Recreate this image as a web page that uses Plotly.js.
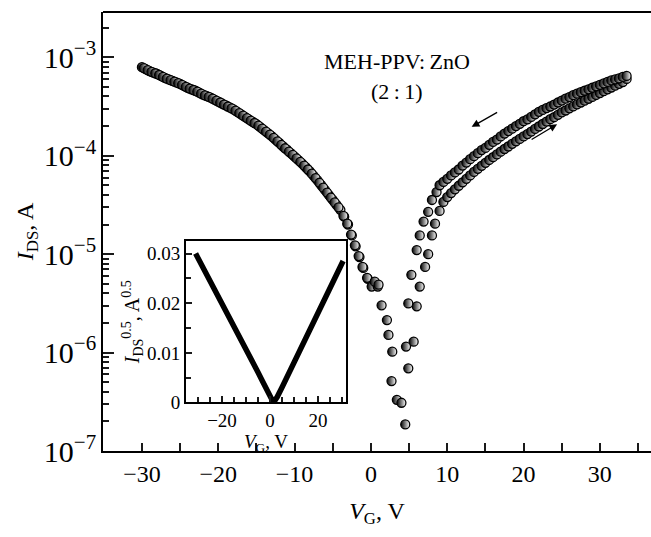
<!DOCTYPE html>
<html>
<head>
<meta charset="utf-8">
<script src="https://cdn.plot.ly/plotly-3.0.1.min.js"></script>
<style>html,body{margin:0;padding:0;overflow:hidden;background:#fff}</style>
</head>
<body>
<div id="chart" style="width:651px;height:537px"></div>
<script>
var forwardV = [-30,-29.5,-29,-28.5,-28,-27.5,-27,-26.5,-26,-25.5,-25,-24.5,-24,-23.5,-23,-22.5,-22,-21.5,-21,-20.5,-20,-19.5,-19,-18.5,-18,-17.5,-17,-16.5,-16,-15.5,-15,-14.5,-14,-13.5,-13,-12.5,-12,-11.5,-11,-10.5,-10,-9.5,-9,-8.5,-8,-7.5,-7,-6.5,-6,-5.5,-5,-4.5,-4,
  -3.5,-3,-2.5,-2,-1.5,-1,-0.4,0.1,0.9,2.3,2.7,3.4,4.5,4.9,5.6,6.0,6.4,7.1,7.5,8.0,8.4,9.0,9.5,
  10,10.5,11,11.5,12,12.5,13,13.5,14,14.5,15,15.5,16,16.5,17,17.5,18,18.5,19,19.5,20,20.5,21,21.5,22,22.5,23,23.5,24,24.5,25,25.5,26,26.5,27,27.5,28,28.5,29,29.5,30,30.5,31,31.5,32,32.5,33,33.5];
var forwardI = [7.94e-4,7.59e-4,7.24e-4,7.00e-4,6.76e-4,6.46e-4,6.17e-4,5.96e-4,5.75e-4,5.56e-4,5.37e-4,5.13e-4,4.90e-4,4.73e-4,4.57e-4,4.37e-4,4.17e-4,4.03e-4,3.89e-4,3.72e-4,3.55e-4,3.39e-4,3.24e-4,3.09e-4,2.95e-4,2.79e-4,2.63e-4,2.48e-4,2.34e-4,2.21e-4,2.09e-4,1.95e-4,1.82e-4,1.70e-4,1.58e-4,1.46e-4,1.35e-4,1.24e-4,1.15e-4,1.06e-4,9.77e-5,9.02e-5,8.32e-5,7.59e-5,6.92e-5,6.24e-5,5.62e-5,5.01e-5,4.47e-5,3.98e-5,3.55e-5,3.16e-5,2.82e-5,
  2.40e-5,2.00e-5,1.55e-5,1.20e-5,9.33e-6,7.24e-6,5.62e-6,4.68e-6,4.68e-6,1.51e-6,5.13e-7,3.31e-7,1.86e-7,6.92e-7,1.29e-6,2.95e-6,4.68e-6,7.41e-6,1.00e-5,1.55e-5,2.04e-5,2.75e-5,3.39e-5,
  3.80e-5,4.17e-5,4.55e-5,4.95e-5,5.37e-5,5.82e-5,6.31e-5,6.85e-5,7.35e-5,7.90e-5,8.47e-5,9.05e-5,9.65e-5,1.03e-4,1.10e-4,1.17e-4,1.24e-4,1.32e-4,1.40e-4,1.48e-4,1.57e-4,1.66e-4,1.76e-4,1.87e-4,1.98e-4,2.10e-4,2.22e-4,2.35e-4,2.46e-4,2.60e-4,2.75e-4,2.88e-4,3.03e-4,3.17e-4,3.32e-4,3.47e-4,3.62e-4,3.79e-4,3.96e-4,4.14e-4,4.33e-4,4.52e-4,4.72e-4,4.93e-4,5.15e-4,5.37e-4,5.60e-4,6.03e-4];
var backwardV = [-29.75,-29.25,-28.75,-28.25,-27.75,-27.25,-26.75,-26.25,-25.75,-25.25,-24.75,-24.25,-23.75,-23.25,-22.75,-22.25,-21.75,-21.25,-20.75,-20.25,-19.75,-19.25,-18.75,-18.25,-17.75,-17.25,-16.75,-16.25,-15.75,-15.25,-14.75,-14.25,-13.75,-13.25,-12.75,-12.25,-11.75,-11.25,-10.75,-10.25,-9.75,-9.25,-8.75,-8.25,-7.75,-7.25,-6.75,-6.25,-5.75,-5.25,-4.75,-4.25,
  -3.6,-3.1,-2.6,-2.1,-1.6,-1.1,-0.5,0.5,1.0,1.4,2.1,2.8,4.0,4.6,4.9,5.3,6.0,6.4,6.9,7.5,8.0,8.6,9.0,9.5,
  10,10.5,11,11.5,12,12.5,13,13.5,14,14.5,15,15.5,16,16.5,17,17.5,18,18.5,19,19.5,20,20.5,21,21.5,22,22.5,23,23.5,24,24.5,25,25.5,26,26.5,27,27.5,28,28.5,29,29.5,30,30.5,31,31.5,32,32.5,33,33.5];
var backwardI = [7.76e-4,7.41e-4,7.12e-4,6.88e-4,6.61e-4,6.31e-4,6.06e-4,5.85e-4,5.65e-4,5.46e-4,5.25e-4,5.01e-4,4.81e-4,4.65e-4,4.47e-4,4.27e-4,4.10e-4,3.96e-4,3.80e-4,3.63e-4,3.47e-4,3.31e-4,3.16e-4,3.02e-4,2.87e-4,2.71e-4,2.55e-4,2.41e-4,2.27e-4,2.15e-4,2.02e-4,1.88e-4,1.76e-4,1.64e-4,1.52e-4,1.40e-4,1.29e-4,1.19e-4,1.10e-4,1.02e-4,9.38e-5,8.66e-5,7.94e-5,7.24e-5,6.57e-5,5.92e-5,5.31e-5,4.73e-5,4.22e-5,3.76e-5,3.35e-5,2.99e-5,
  2.45e-5,2.04e-5,1.58e-5,1.23e-5,9.55e-6,7.41e-6,5.75e-6,5.25e-6,4.90e-6,3.02e-6,2.14e-6,1.02e-6,3.09e-7,1.15e-6,3.16e-6,6.17e-6,1.10e-5,1.55e-5,2.14e-5,2.69e-5,3.55e-5,4.27e-5,5.01e-5,5.41e-5,
  5.82e-5,6.31e-5,6.76e-5,7.24e-5,7.94e-5,8.51e-5,9.23e-5,9.89e-5,1.06e-4,1.14e-4,1.20e-4,1.29e-4,1.38e-4,1.46e-4,1.57e-4,1.68e-4,1.78e-4,1.88e-4,2.00e-4,2.11e-4,2.24e-4,2.34e-4,2.48e-4,2.63e-4,2.79e-4,2.92e-4,3.05e-4,3.16e-4,3.31e-4,3.47e-4,3.63e-4,3.80e-4,3.94e-4,4.12e-4,4.27e-4,4.42e-4,4.57e-4,4.73e-4,4.90e-4,5.07e-4,5.25e-4,5.43e-4,5.62e-4,5.82e-4,5.96e-4,6.10e-4,6.31e-4,6.46e-4];
var insetV = [-31,-29,-27,-25,-23,-21,-19,-17,-15,-13,-11,-9,-7,-5,-3,-2,-1,0,1,1.5,2,3,5,7,9,11,13,15,17,19,21,23,25,27,29,30.5];
var insetI = [0.0300,0.0282,0.0263,0.0245,0.0226,0.0208,0.0189,0.0171,0.0153,0.0134,0.0116,0.0098,0.0080,0.0061,0.0042,0.0031,0.0020,0.0011,0.0004,0.0000,0.0003,0.0011,0.0030,0.0050,0.0070,0.0090,0.0110,0.0130,0.0150,0.0170,0.0190,0.0210,0.0230,0.0250,0.0270,0.0285];

var labelSample = 'MEH-PPV:\u2009ZnO';
var labelRatio = '(2\u2009:\u20091)';
var FONT = 'Liberation Serif, Times New Roman, serif';

var markerStyle = {
  symbol: 'circle', size: 9, color: '#000',
  line: {color: '#000', width: 1.3},
  gradient: {type: 'horizontal', color: '#fff'}
};

var traces = [
  {x: forwardV, y: forwardI, type: 'scatter', mode: 'markers', marker: markerStyle, xaxis: 'x', yaxis: 'y'},
  {x: backwardV, y: backwardI, type: 'scatter', mode: 'markers', marker: markerStyle, xaxis: 'x', yaxis: 'y'},
  {x: insetV, y: insetI, type: 'scatter', mode: 'lines', line: {color: '#000', width: 5.5}, xaxis: 'x2', yaxis: 'y2'}
];

var layout = {
  width: 651, height: 537,
  margin: {l: 103, r: 0, t: 12, b: 86},
  showlegend: false,
  font: {family: FONT, size: 24, color: '#000'},
  xaxis: {
    range: [-35.1, 36.7], dtick: 10,
    ticks: 'inside', ticklen: 8, tickwidth: 2, tickcolor: '#1a1a1a',
    minor: {dtick: 5, ticks: 'inside', ticklen: 8, tickwidth: 2, tickcolor: '#1a1a1a'},
    showline: true, linewidth: 2, linecolor: '#000',
    showgrid: false, zeroline: false,
    tickfont: {size: 24},
    title: {text: '<i>V</i><sub>G</sub>, V', font: {size: 24}, standoff: 16}
  },
  yaxis: {
    type: 'log', range: [-7, -2.54], dtick: 1, exponentformat: 'power',
    ticks: 'inside', ticklen: 11, tickwidth: 2, tickcolor: '#1a1a1a',
    minor: {ticks: 'inside', ticklen: 6, tickwidth: 1.5, tickcolor: '#1a1a1a'},
    showline: true, linewidth: 2, linecolor: '#000',
    showgrid: false, zeroline: false,
    tickfont: {size: 24},
    title: {text: '<i>I</i><sub>DS</sub>, A', font: {size: 24}}
  },
  xaxis2: {
    domain: [0.1515, 0.4434], anchor: 'y2',
    range: [-35, 31.7], dtick: 20,
    ticks: 'inside', ticklen: 6, tickwidth: 1.5, tickcolor: '#1a1a1a',
    minor: {dtick: 5, ticks: 'inside', ticklen: 5, tickwidth: 1.5, tickcolor: '#1a1a1a'},
    showline: true, mirror: true, linewidth: 2, linecolor: '#000',
    showgrid: false, zeroline: false,
    tickfont: {size: 19},
    title: {text: '<i>V</i><sub>G</sub>, V', font: {size: 19}, standoff: 2}
  },
  yaxis2: {
    domain: [0.1105, 0.478], anchor: 'x2',
    range: [0, 0.0325], dtick: 0.01,
    ticks: 'inside', ticklen: 6, tickwidth: 1.5, tickcolor: '#1a1a1a',
    minor: {dtick: 0.005, ticks: 'inside', ticklen: 5, tickwidth: 1.5, tickcolor: '#1a1a1a'},
    showline: true, mirror: true, linewidth: 2, linecolor: '#000',
    showgrid: false, zeroline: false,
    tickfont: {size: 19},
    title: {text: '<i>I</i><sub>DS</sub><sup>0.5</sup>, A<sup>0.5</sup>', font: {size: 20}, standoff: 2}
  },
  shapes: [
    {type: 'line', xref: 'paper', yref: 'paper', x0: 0, x1: 1, y0: 1, y1: 1, line: {color: '#000', width: 2}}
  ],
  annotations: [
    {xref: 'paper', yref: 'paper', x: 0.5365, y: 0.920, text: labelSample, showarrow: false, font: {size: 22}},
    {xref: 'paper', yref: 'paper', x: 0.5365, y: 0.852, text: labelRatio, showarrow: false, font: {size: 22}},
    {xref: 'x', yref: 'y', x: 13.2, y: -3.707, ax: 30, ay: -17, showarrow: true, arrowhead: 2, arrowsize: 1.2, arrowwidth: 1.3, arrowcolor: '#000', text: ' '},
    {xref: 'x', yref: 'y', x: 24.4, y: -3.68, ax: -30, ay: 18, showarrow: true, arrowhead: 2, arrowsize: 1.2, arrowwidth: 1.3, arrowcolor: '#000', text: ' '}
  ]
};

Plotly.newPlot('chart', traces, layout, {displayModeBar: false});
</script>
</body>
</html>
